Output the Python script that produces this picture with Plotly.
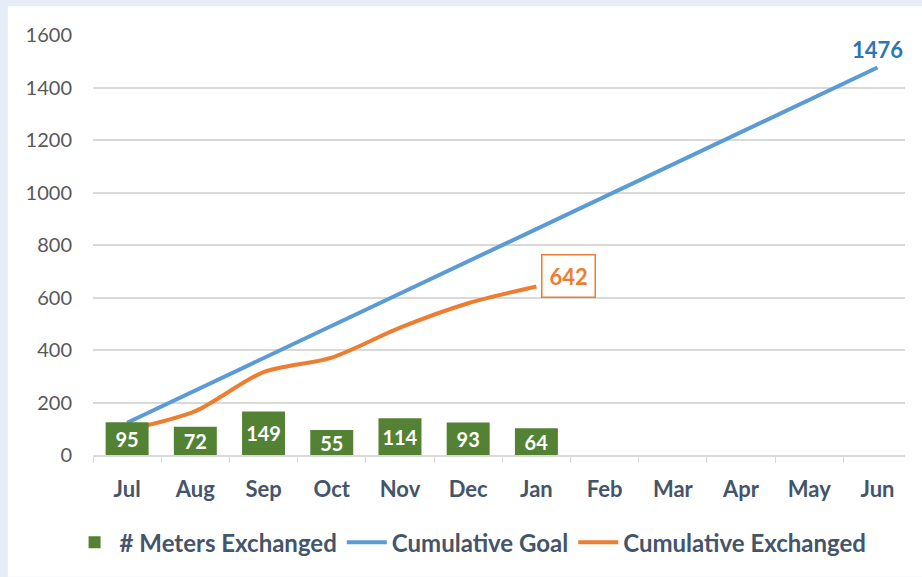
import plotly.graph_objects as go

months = ["Jul", "Aug", "Sep", "Oct", "Nov", "Dec", "Jan", "Feb", "Mar", "Apr", "May", "Jun"]
exchanged = [95, 72, 149, 55, 114, 93, 64]
cumulative_goal = [123, 246, 369, 492, 615, 738, 861, 984, 1107, 1230, 1353, 1476]
cumulative_exchanged = [95, 167, 316, 371, 485, 578, 642]

GREEN = "#548235"
BLUE = "#5b9bd5"
ORANGE = "#ed7d31"
TEXT = "#44546a"
FONT = "Lato, 'Noto Sans', sans-serif"
BAR_BASE = -70  # bars start below the hidden axis zero, like the original's label boxes

fig = go.Figure()

# bars sit on a hidden overlay axis so they draw above the lines
fig.add_trace(go.Bar(
    x=months[:len(exchanged)], y=[v - BAR_BASE for v in exchanged], base=BAR_BASE, yaxis="y2",
    name="# Meters Exchanged", marker=dict(color=GREEN, line=dict(width=0)),
    width=0.63, text=[str(v) for v in exchanged], textposition="inside",
    insidetextanchor="middle", textangle=0,
    textfont=dict(color="white", size=20, family=FONT, weight="bold"),
    hovertext=[str(v) for v in exchanged], hoverinfo="text+x",
))
fig.add_trace(go.Scatter(
    x=months, y=cumulative_goal, mode="lines", name="Cumulative Goal",
    line=dict(color=BLUE, width=4),
))
fig.add_trace(go.Scatter(
    x=months[:len(cumulative_exchanged)], y=cumulative_exchanged, mode="lines",
    name="Cumulative Exchanged", line=dict(color=ORANGE, width=4, shape="spline", smoothing=0.8),
))

fig.add_annotation(x=months[-1], y=cumulative_goal[-1], text="<b>1476</b>",
                   showarrow=False, xanchor="center", yanchor="bottom", yshift=3,
                   font=dict(color="#2e75b6", size=22, family=FONT))
fig.add_annotation(x=months[len(cumulative_exchanged) - 1], y=cumulative_exchanged[-1],
                   text="<b>642</b>", showarrow=False, xanchor="left", yanchor="middle",
                   xshift=5, yshift=10, bgcolor="white", bordercolor=ORANGE,
                   borderwidth=1.5, borderpad=7,
                   font=dict(color=ORANGE, size=22, family=FONT))

# light blue frame round the white chart area
fig.add_shape(type="rect", xref="paper", yref="paper", x0=-0.105, x1=1.03,
              y0=-0.29, y1=1.0687, fillcolor="white", line=dict(width=0), layer="below")

fig.update_layout(
    width=922, height=577,
    margin=dict(l=93, r=17, t=35, b=120),
    paper_bgcolor="#e6edf6", plot_bgcolor="rgba(0,0,0,0)",
    font=dict(family=FONT, color=TEXT),
    showlegend=True,
    legend=dict(orientation="h", x=0.465, xanchor="center", y=-0.2085, yanchor="middle",
                bgcolor="rgba(0,0,0,0)",
                font=dict(size=24, color=TEXT, family=FONT, weight="bold"),
                itemwidth=40, traceorder="normal"),
    xaxis=dict(showgrid=False, showline=True, linecolor="#d9d9d9", linewidth=1.5,
               ticks="outside", tickson="boundaries", ticklen=6, tickcolor="#d9d9d9",
               ticklabelstandoff=14,
               tickfont=dict(size=22, color=TEXT, family=FONT, weight="bold"),
               categoryorder="array", categoryarray=months),
    yaxis=dict(range=[0, 1600], dtick=200, showgrid=True, gridcolor="#d9d9d9",
               gridwidth=1.5, zeroline=False, ticklabelstandoff=20,
               tickfont=dict(size=20, color="#595959", family=FONT)),
    yaxis2=dict(range=[BAR_BASE, 2040], overlaying="y", visible=False),
    uniformtext=dict(minsize=20, mode="show"),
    bargap=0.37,
)

fig.write_html("out.html", config={"displayModeBar": False},
               post_script="document.body.style.margin='0';")
